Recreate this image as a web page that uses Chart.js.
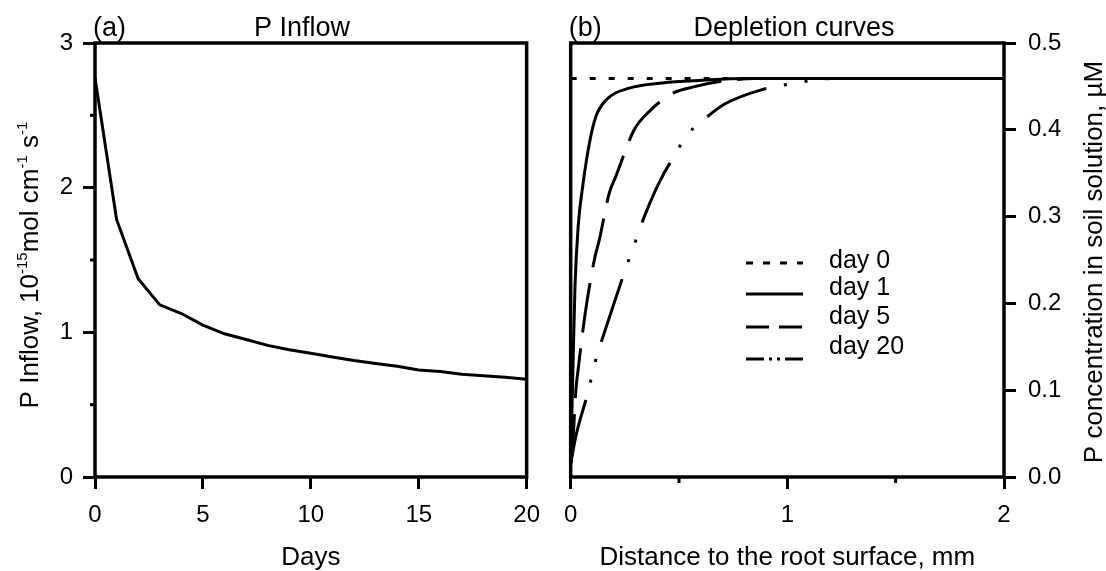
<!DOCTYPE html>
<html>
<head>
<meta charset="utf-8">
<script src="https://cdn.jsdelivr.net/npm/chart.js@4.4.1/dist/chart.umd.min.js"></script>
<style>
  body { margin: 0; background: #fff; }
  #wrap { position: relative; width: 1106px; height: 571px; background: #fff; }
  #c1 { position: absolute; left: 0; top: 0; }
  #c2 { position: absolute; left: 552px; top: 0; }
</style>
</head>
<body>
<div id="wrap">
  <canvas id="c1" width="552" height="571" style="width:552px;height:571px"></canvas>
  <canvas id="c2" width="554" height="571" style="width:554px;height:571px"></canvas>
</div>
<script>
// (a) P inflow over time
const days = [0, 1, 2, 3, 4, 5, 6, 7, 8, 9, 10, 11, 12, 13, 14, 15, 16, 17, 18, 19, 20];
const inflow = [2.76, 1.78, 1.37, 1.19, 1.13, 1.05, 0.99, 0.95, 0.91, 0.88, 0.855,
                0.83, 0.805, 0.785, 0.765, 0.74, 0.73, 0.71, 0.70, 0.69, 0.675];

// (b) depletion curves, distance in mm vs concentration in uM
const day0Dist = [0, 2];
const day0Conc = [0.459, 0.459];
const day1Dist = [0, 0.01, 0.02, 0.035, 0.055, 0.086, 0.116, 0.162, 0.27, 0.423, 0.607, 0.8, 2];
const day1Conc = [0.015, 0.12, 0.22, 0.29, 0.334, 0.384, 0.415, 0.434, 0.448, 0.454, 0.457, 0.459, 0.459];
const day5Dist = [0, 0.01, 0.024, 0.035, 0.065, 0.109, 0.132, 0.178, 0.208, 0.293, 0.362, 0.47, 0.577, 0.7, 0.85, 2];
const day5Conc = [0.015, 0.04, 0.10, 0.125, 0.185, 0.25, 0.273, 0.327, 0.346, 0.40, 0.421, 0.442, 0.45, 0.456, 0.459, 0.459];
const day20Dist = [0, 0.023, 0.078, 0.12, 0.147, 0.2, 0.247, 0.31, 0.34, 0.41, 0.485, 0.538, 0.63, 0.713, 0.88, 1.02, 1.2, 2];
const day20Conc = [0.015, 0.046, 0.096, 0.139, 0.16, 0.2, 0.235, 0.279, 0.30, 0.34, 0.373, 0.394, 0.415, 0.43, 0.446, 0.453, 0.459, 0.459];
const seriesNames = ['day 0', 'day 1', 'day 5', 'day 20'];

const FONT = '"Liberation Sans", Arial, Helvetica, sans-serif';
Chart.defaults.font.family = FONT;
Chart.defaults.color = '#000';

const pts = (xs, ys) => xs.map((x, i) => ({ x: x, y: ys[i] }));

// rotated axis title, reads bottom to top, runs can be superscript
function drawRotated(ctx, runs, x, y) {
  const big = '26px ' + FONT;
  const small = '15px ' + FONT;
  ctx.save();
  ctx.translate(x, y);
  ctx.rotate(-Math.PI / 2);
  let total = 0;
  runs.forEach(r => { ctx.font = r.sup ? small : big; total += ctx.measureText(r.t).width; });
  let cx = -total / 2;
  ctx.textAlign = 'left';
  ctx.textBaseline = 'alphabetic';
  runs.forEach(r => {
    ctx.font = r.sup ? small : big;
    ctx.fillText(r.t, cx, r.sup ? -2 : 9);
    cx += ctx.measureText(r.t).width;
  });
  ctx.restore();
}

const panelDeco = {
  id: 'panelDeco',
  afterDraw(chart, args, opts) {
    const { ctx, chartArea: a } = chart;
    ctx.save();
    ctx.strokeStyle = '#000';
    ctx.lineWidth = 3.5;
    ctx.strokeRect(a.left, a.top, a.right - a.left, a.bottom - a.top);

    // minor ticks
    ctx.lineWidth = 3;
    (opts.minorY || []).forEach(v => {
      const y = chart.scales.y.getPixelForValue(v);
      ctx.beginPath(); ctx.moveTo(a.left - 5, y); ctx.lineTo(a.left, y); ctx.stroke();
    });
    (opts.minorX || []).forEach(v => {
      const x = chart.scales.x.getPixelForValue(v);
      ctx.beginPath(); ctx.moveTo(x, a.bottom); ctx.lineTo(x, a.bottom + 6); ctx.stroke();
    });

    // panel letter + title
    ctx.fillStyle = '#000';
    ctx.textBaseline = 'middle';
    ctx.font = '27px ' + FONT;
    ctx.textAlign = 'left';
    ctx.fillText(opts.letter, a.left - 2, 29);
    ctx.textAlign = 'center';
    ctx.fillText(opts.title, opts.titleX, 29);

    drawRotated(ctx, opts.yTitle, opts.yTitleX, opts.yTitleY);

    // legend inside the plot
    if (opts.legend) {
      const L = opts.legend;
      chart.data.datasets.forEach((ds, i) => {
        ctx.lineWidth = 3;
        ctx.setLineDash(ds.legendDash || []);
        ctx.beginPath();
        ctx.moveTo(L.x0, L.lineY[i]);
        ctx.lineTo(L.x1, L.lineY[i]);
        ctx.stroke();
        ctx.setLineDash([]);
        ctx.font = '25px ' + FONT;
        ctx.textAlign = 'left';
        ctx.textBaseline = 'middle';
        ctx.fillText(ds.label, L.textX, L.textY[i]);
      });
    }
    ctx.restore();
  }
};

const tickFont = { size: 24 };
const gridOpts = { drawOnChartArea: false, drawTicks: true, tickLength: 12, tickWidth: 3, tickColor: '#000' };

new Chart(document.getElementById('c1'), {
  type: 'line',
  data: {
    datasets: [{
      label: 'P Inflow',
      data: pts(days, inflow),
      borderColor: '#000',
      borderWidth: 3,
      pointRadius: 0,
      tension: 0
    }]
  },
  options: {
    responsive: false,
    animation: false,
    layout: { padding: { top: 43, right: 17, left: 0, bottom: 0 } },
    plugins: {
      legend: { display: false },
      tooltip: { enabled: false },
      panelDeco: {
        letter: '(a)',
        title: 'P Inflow',
        titleX: 302,
        minorY: [0.5, 1.5, 2.5],
        yTitle: [
          { t: 'P Inflow, 10' }, { t: '-15', sup: true }, { t: 'mol cm' },
          { t: '-1', sup: true }, { t: ' s' }, { t: '-1', sup: true }
        ],
        yTitleX: 29,
        yTitleY: 265
      }
    },
    scales: {
      x: {
        type: 'linear', min: 0, max: 20,
        ticks: { stepSize: 5, font: tickFont, color: '#000', padding: 12, maxRotation: 0 },
        grid: gridOpts,
        border: { display: false },
        title: { display: true, text: 'Days', font: { size: 26, lineHeight: 1 }, color: '#000', padding: { top: 0, bottom: 0 } },
        afterFit(s) { s.height = 94; }
      },
      y: {
        type: 'linear', min: 0, max: 3,
        ticks: { stepSize: 1, font: tickFont, color: '#000', padding: 10 },
        grid: gridOpts,
        border: { display: false },
        afterFit(s) { s.width = 95; }
      }
    }
  },
  plugins: [panelDeco]
});

const curveStyle = { borderColor: '#000', borderWidth: 3, pointRadius: 0, fill: false, cubicInterpolationMode: 'monotone' };

new Chart(document.getElementById('c2'), {
  type: 'line',
  data: {
    datasets: [
      { ...curveStyle, label: seriesNames[1], data: pts(day1Dist, day1Conc), legendDash: [] },
      { ...curveStyle, label: seriesNames[2], data: pts(day5Dist, day5Conc), borderDash: [50, 16], legendDash: [23, 10] },
      { ...curveStyle, label: seriesNames[3], data: pts(day20Dist, day20Conc), borderDash: [66, 18, 3, 18, 3, 18], legendDash: [18, 5, 3, 5, 3, 5] },
      { ...curveStyle, label: seriesNames[0], data: pts(day0Dist, day0Conc), borderDash: [6, 13], legendDash: [7, 10] }
    ]
  },
  options: {
    responsive: false,
    animation: false,
    layout: { padding: { top: 43, right: 0, left: 16, bottom: 0 } },
    plugins: {
      legend: { display: false },
      tooltip: { enabled: false },
      panelDeco: {
        letter: '(b)',
        title: 'Depletion curves',
        titleX: 794 - 552,
        minorX: [0.5, 1.5],
        yTitle: [{ t: 'P concentration in soil solution, \u00b5M' }],
        yTitleX: 1093 - 552,
        yTitleY: 262,
        legend: {
          x0: 746 - 552, x1: 803 - 552, textX: 829 - 552,
          lineY: [294, 327, 359, 263],
          textY: [288, 317, 347, 261]
        }
      }
    },
    scales: {
      x: {
        type: 'linear', min: 0, max: 2,
        ticks: { stepSize: 1, font: tickFont, color: '#000', padding: 12, maxRotation: 0 },
        grid: gridOpts,
        border: { display: false },
        title: { display: true, text: 'Distance to the root surface, mm', font: { size: 26, lineHeight: 1 }, color: '#000', padding: { top: 0, bottom: 0 } },
        afterFit(s) { s.height = 94; }
      },
      y: {
        type: 'linear', position: 'right', min: 0, max: 0.5,
        ticks: { stepSize: 0.1, font: tickFont, color: '#000', padding: 12, callback: v => v.toFixed(1) },
        grid: gridOpts,
        border: { display: false },
        afterFit(s) { s.width = 102; }
      }
    }
  },
  plugins: [panelDeco]
});
</script>
</body>
</html>
